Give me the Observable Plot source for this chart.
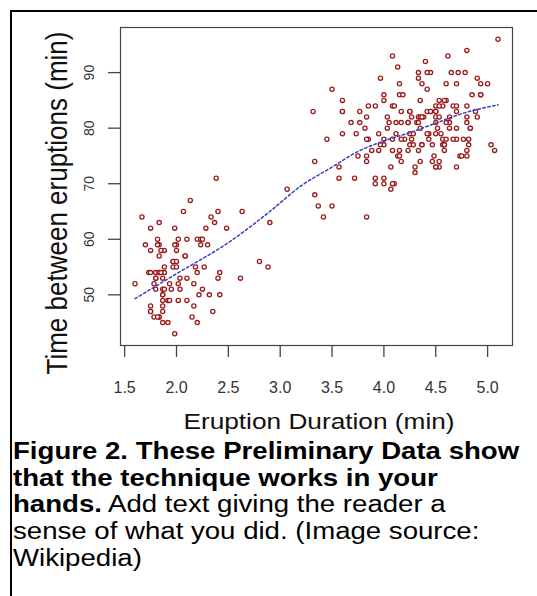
<!DOCTYPE html>
<html>
<head>
<meta charset="utf-8">
<script src="https://cdn.jsdelivr.net/npm/d3@7"></script>
<script src="https://cdn.jsdelivr.net/npm/@observablehq/plot@0.6"></script>
<style>
  html, body { margin: 0; padding: 0; background: #fff; }
  body { width: 537px; height: 596px; position: relative; overflow: hidden; font-family: "Liberation Sans", Arial, sans-serif; }
  #border { position: absolute; left: 10px; top: 10px; width: 700px; height: 800px; border-left: 2px solid #000; border-top: 2px solid #000; }
  #chart { position: absolute; left: 0; top: 0; }
  #xtitle { position: absolute; left: 319px; top: 411.5px; font-size: 21.5px; line-height: 1; white-space: nowrap; color: #111;
            transform: translateX(-50%) scaleX(1.22); transform-origin: 50% 0; }
  #ytitle { position: absolute; left: 56.5px; top: 202.5px; font-size: 26px; line-height: 1; white-space: nowrap; color: #111;
            transform: translate(-50%, -50%) scaleX(1.15) rotate(-90deg); transform-origin: 50% 50%; }
  #caption { position: absolute; left: 13px; top: 438px; font-size: 23px; line-height: 26.7px; white-space: nowrap; color: #000;
             transform: scaleX(1.2); transform-origin: 0 0; }
</style>
</head>
<body>
<div id="border"></div>
<div id="chart"></div>
<div id="xtitle">Eruption Duration (min)</div>
<div id="ytitle">Time between eruptions (min)</div>
<div id="caption"><b>Figure 2. These Preliminary Data show</b><br><b>that the technique works in your</b><br><b>hands.</b> Add text giving the reader a<br>sense of what you did. (Image source:<br>Wikipedia)</div>
<script>
const eruptions = [3.600,1.800,3.333,2.283,4.533,2.883,4.700,3.600,1.950,4.350,1.833,3.917,4.200,1.750,4.700,2.167,1.750,4.800,1.600,4.250,1.800,1.750,3.450,3.067,4.533,3.600,1.967,4.083,3.850,4.433,4.300,4.467,3.367,4.033,3.833,2.017,1.867,4.833,1.833,4.783,4.350,1.883,4.567,1.750,4.533,3.317,3.833,2.100,4.633,2.000,4.800,4.716,1.833,4.833,1.733,4.883,3.717,1.667,4.567,4.317,2.233,4.500,1.750,4.800,1.817,4.400,4.167,4.700,2.067,4.700,4.033,1.967,4.500,4.000,1.983,5.067,2.017,4.567,3.883,3.600,4.133,4.333,4.100,2.633,4.067,4.933,3.950,4.517,2.167,4.000,2.200,4.333,1.867,4.817,1.833,4.300,4.667,3.750,1.867,4.900,2.483,4.367,2.100,4.500,4.050,1.867,4.700,1.783,4.850,3.683,4.733,2.300,4.900,4.417,1.700,4.633,2.317,4.600,1.817,4.417,2.617,4.067,4.250,1.967,4.600,3.767,1.917,4.500,2.267,4.650,1.867,4.167,2.800,4.333,1.833,4.383,1.883,4.933,2.033,3.733,4.233,2.233,4.533,4.817,4.333,1.983,4.633,2.017,5.100,1.800,5.033,4.000,2.400,4.600,3.567,4.000,4.500,4.083,1.800,3.967,2.200,4.150,2.000,3.833,3.500,4.583,2.367,5.000,1.933,4.617,1.917,2.083,4.583,3.333,4.167,4.333,4.500,2.417,4.000,4.167,1.883,4.583,4.250,3.767,2.033,4.433,4.083,1.833,4.417,2.183,4.800,1.833,4.800,4.100,3.966,4.233,3.500,4.366,2.250,4.667,2.100,4.350,4.133,1.867,4.600,1.783,4.367,3.850,1.933,4.500,2.383,4.700,1.867,3.833,3.417,4.233,2.400,4.800,2.000,4.150,1.867,4.267,1.750,4.483,4.000,4.117,4.083,4.267,3.917,4.550,4.083,2.417,4.183,2.217,4.450,1.883,1.850,4.283,3.950,2.333,4.150,2.350,4.933,2.900,4.583,3.833,2.083,4.367,2.133,4.350,2.200,4.450,3.567,4.500,4.150,3.817,3.917,4.450,2.000,4.283,4.767,4.533,1.850,4.250,1.983,2.250,4.750,4.117,2.150,4.417,1.817,4.467];
const waiting = [79,54,74,62,85,55,88,85,51,85,54,84,78,47,83,52,62,84,52,79,51,47,78,69,74,83,55,76,78,79,73,77,66,80,74,52,48,80,59,90,80,58,84,58,73,83,64,53,82,59,75,90,54,80,54,83,71,64,77,81,59,84,48,82,60,92,78,78,65,73,82,56,79,71,62,76,60,78,76,83,75,82,70,65,73,88,76,80,48,86,60,90,50,78,63,72,84,75,51,82,62,88,49,83,81,47,84,52,86,81,75,59,89,79,59,81,50,85,59,87,53,69,77,56,88,81,45,82,55,90,45,83,56,89,46,82,51,86,53,79,81,60,82,77,76,59,80,49,96,53,77,77,65,81,71,70,81,93,53,89,45,86,58,78,66,76,63,88,52,93,49,57,77,68,81,81,73,50,85,74,55,77,83,83,51,78,84,46,83,55,81,57,76,84,77,81,87,77,51,78,60,82,91,53,78,46,77,84,49,83,71,80,49,75,64,76,53,94,55,76,50,82,54,75,78,79,78,78,70,79,70,54,86,50,90,54,54,77,79,64,75,47,86,63,85,82,57,82,67,74,54,83,73,73,88,80,71,83,56,79,78,84,58,83,43,60,75,81,46,90,46,74];

// smoothed (lowess) curve
const smoothX = [1.6, 2.0, 2.5, 2.9, 3.2, 3.5, 3.75, 4.0, 4.25, 4.5, 4.75, 5.1];
const smoothY = [49.3, 53.8, 59.4, 65.0, 69.6, 73.0, 75.8, 77.7, 79.2, 80.9, 82.6, 84.2];

const xTicks = [1.5, 2.0, 2.5, 3.0, 3.5, 4.0, 4.5, 5.0];
const yTicks = [50, 60, 70, 80, 90];

const n = Math.min(eruptions.length, waiting.length);
const points = d3.range(n).map(i => ({x: eruptions[i], y: waiting[i]}));
const smooth = smoothX.map((x, i) => ({x, y: smoothY[i]}));

const chart = Plot.plot({
  width: 537,
  height: 440,
  marginLeft: 120,
  marginRight: 25,
  marginTop: 27,
  marginBottom: 95,
  style: {fontFamily: "'Liberation Sans', Arial, sans-serif", background: "transparent", color: "#333"},
  x: {domain: [1.46, 5.24]},
  y: {domain: [40.88, 98.12]},
  marks: [
    Plot.frame({stroke: "#444", strokeWidth: 1.2}),
    Plot.axisX({ticks: xTicks, tickSize: 12, tickPadding: 24, tickFormat: d3.format(".1f"), fontSize: 16, label: null, stroke: "#444", strokeWidth: 1.3}),
    Plot.axisY({ticks: yTicks, tickSize: 12, tickPadding: 15, tickRotate: -90, fontSize: 14, label: null, stroke: "#444", strokeWidth: 1.3}),
    Plot.dot(points, {x: "x", y: "y", r: 2.1, stroke: "#9a1a1a", strokeWidth: 1.3, fill: "white"}),
    Plot.line(smooth, {x: "x", y: "y", stroke: "#3b3bcc", strokeWidth: 1.5, strokeDasharray: "2.5,2.5", curve: "monotone-x"})
  ]
});
document.getElementById("chart").appendChild(chart);
</script>
</body>
</html>
